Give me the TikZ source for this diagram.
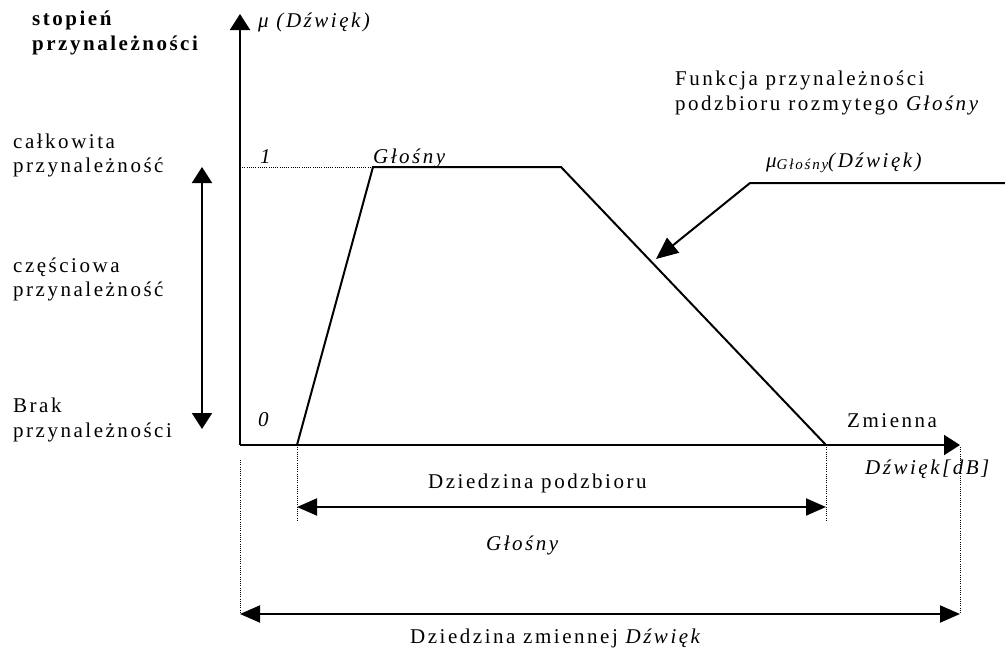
\documentclass[tikz,border=0pt]{standalone}
\usepackage{fontspec}
\setmainfont{Liberation Serif}[LetterSpace=12]
\usetikzlibrary{arrows.meta}

\tikzset{
  lbl/.style={anchor=base west,inner sep=0pt,font=\fontsize{21}{24}\selectfont},
  ilbl/.style={lbl,font=\fontsize{21}{24}\selectfont\itshape},
  blbl/.style={lbl,font=\fontsize{21}{24}\selectfont\bfseries},
  axis/.style={line width=2pt,-{Triangle[length=16pt,width=20pt]}},
  dimarrow/.style={line width=2pt,{Triangle[length=20pt,width=17pt]}-{Triangle[length=20pt,width=17pt]}},
  guide/.style={line width=0.8pt,dash pattern=on 1pt off 1.2pt}
}

\begin{document}
\begin{tikzpicture}[x=1pt,y=-1pt]
    \useasboundingbox (0,0) rectangle (1005,648);

    % axes
    \coordinate (O) at (240,445);
    \coordinate (ytop) at (240,14);
    \coordinate (xend) at (960,445);
    \draw[axis] (O) -- (ytop);
    \draw[axis] (O) -- (xend);

    % trapezoid
    \coordinate (A) at (297,445);
    \coordinate (B) at (373,167);
    \coordinate (C) at (561,167);
    \coordinate (D) at (826,445);
    \draw[line width=2pt,line join=miter] (A) -- (B) -- (C) -- (D);
    \draw[guide] (240,167) -- (B);

    % guides under the axis
    \coordinate (Ad) at (297,521);
    \coordinate (Dd) at (826,521);
    \coordinate (Ol) at (240,460);
    \coordinate (Ob) at (240,614);
    \coordinate (xb) at (960,614);
    \draw[guide] (A) -- (Ad);
    \draw[guide] (D) -- (Dd);
    \draw[guide] (Ol) -- (Ob);
    \draw[guide] (960,447) -- (xb);

    % domains
    \draw[dimarrow] (297,507) -- (826,507);
    \draw[dimarrow] (Ob) -- (xb);

    % membership scale
    \coordinate (full) at (202,167);
    \coordinate (none) at (202,429);
    \draw[line width=2pt,{Triangle[length=16pt,width=20pt]}-{Triangle[length=16pt,width=20pt]}] (none) -- (full);

    % pointer to the function
    \coordinate (pend) at (1005,183);
    \coordinate (pbend) at (750,183);
    \coordinate (ptip) at (656,259);
    \draw[line width=2pt,-{Triangle[length=22pt,width=19pt]}] (pend) -- (pbend) -- (ptip);

    % left labels
    \node[blbl] (st1) at (32,25) {stopień};
    \node[blbl] (st2) at (32,50) {przynależności};
    \node[lbl] (full1) at (13,148) {całkowita};
    \node[lbl] (full2) at (13,172) {przynależność};
    \node[lbl] (part1) at (13,272) {częściowa};
    \node[lbl] (part2) at (13,296) {przynależność};
    \node[lbl] (none1) at (13,412) {Brak};
    \node[lbl] (none2) at (13,437) {przynależności};

    % axis labels
    \node[ilbl] (mu) at (258,27) {μ (Dźwięk)};
    \node[ilbl] (one) at (260,163) {1};
    \node[ilbl] (zero) at (258,426) {0};
    \node[ilbl] (glosny) at (373,163) {Głośny};
    \node[lbl] (zm) at (847,427) {Zmienna};
    \node[ilbl] (dzw) at (865,474) {Dźwięk[dB]};

    % right labels
    \node[lbl] (fn1) at (675,85) {Funkcja przynależności};
    \node[lbl] (fn2) at (675,110) {podzbioru rozmytego \textit{Głośny}};
    \node[ilbl] (mug) at (766,167) {μ\raisebox{-0.3ex}{\fontsize{15}{15}\selectfont Głośny}(Dźwięk)};

    % bottom labels
    \node[lbl] (dp) at (428,488) {Dziedzina podzbioru};
    \node[ilbl] (dg) at (486,550) {Głośny};
    \node[lbl] (dz) at (410,643) {Dziedzina zmiennej \textit{Dźwięk}};
\end{tikzpicture}
\end{document}
